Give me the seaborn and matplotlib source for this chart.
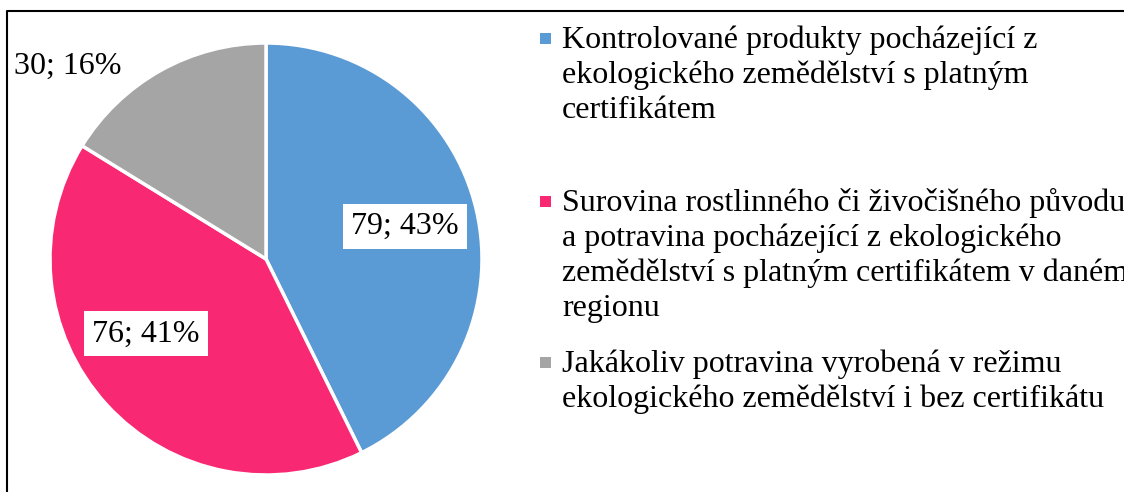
import matplotlib
matplotlib.use("Agg")
import matplotlib.pyplot as plt
import seaborn as sns
from matplotlib.lines import Line2D
from matplotlib.patches import Rectangle

# data
categories = [
    ["Kontrolované produkty pocházející z",
     "ekologického zemědělství s platným",
     "certifikátem"],
    ["Surovina rostlinného či živočišného původu",
     "a potravina pocházející z ekologického",
     "zemědělství s platným certifikátem v daném",
     "regionu"],
    ["Jakákoliv potravina vyrobená v režimu",
     "ekologického zemědělství i bez certifikátu"],
]
counts = [79, 76, 30]
colors = ["#5B9BD5", "#F92873", "#A5A5A5"]

sns.set_theme(style="white")
plt.rcParams["font.family"] = ["Liberation Serif", "DejaVu Serif"]

W, H = 1124, 492
fig = plt.figure(figsize=(W / 100, H / 100), dpi=100)

# pie axes: centre (266, 259) px, radius 216 px
cx, cy, r = 266, 259, 216
ax = fig.add_axes([(cx - r) / W, (H - cy - r) / H, 2 * r / W, 2 * r / H])

total = sum(counts)


def fmt(pct):
    n = int(round(pct * total / 100))
    return f"{n}; {pct:.0f}%"


wedges, texts, autotexts = ax.pie(
    counts, colors=colors, startangle=90, counterclock=False,
    autopct=fmt, pctdistance=0.66, radius=1,
    wedgeprops=dict(edgecolor="white", linewidth=2.5),
    textprops=dict(fontsize=23, color="black"),
)
ax.set_xlim(-1, 1)
ax.set_ylim(-1, 1)
ax.set_aspect("equal")

for t in autotexts:
    t.set_bbox(dict(boxstyle="square,pad=0.25", facecolor="white", edgecolor="none"))
# Excel-style placement tweaks
autotexts[1].set_position((-0.556, -0.347))
autotexts[2].set_position((-0.92, 0.894))
autotexts[2].set_bbox(None)

# legend drawn by hand (markers aligned to first line)
text_x = 562 / W
sq = 11
line_gap = 35
first_baselines = [48, 211, 372]
for lines, col, base in zip(categories, colors, first_baselines):
    fig.add_artist(Rectangle((540 / W, (H - base + 4) / H), sq / W, sq / H,
                             transform=fig.transFigure, facecolor=col,
                             edgecolor="none"))
    for i, line in enumerate(lines):
        fig.text(text_x, (H - base - i * line_gap) / H, line,
                 fontsize=23, va="baseline", ha="left", color="black")

# frame (only top and left edges visible)
fig.add_artist(Line2D([7 / W, 7 / W, 1.0], [0, 1 - 11 / H, 1 - 11 / H],
                      transform=fig.transFigure, color="black", linewidth=1.5))

fig.savefig("out.png", dpi=100)
plt.close(fig)
